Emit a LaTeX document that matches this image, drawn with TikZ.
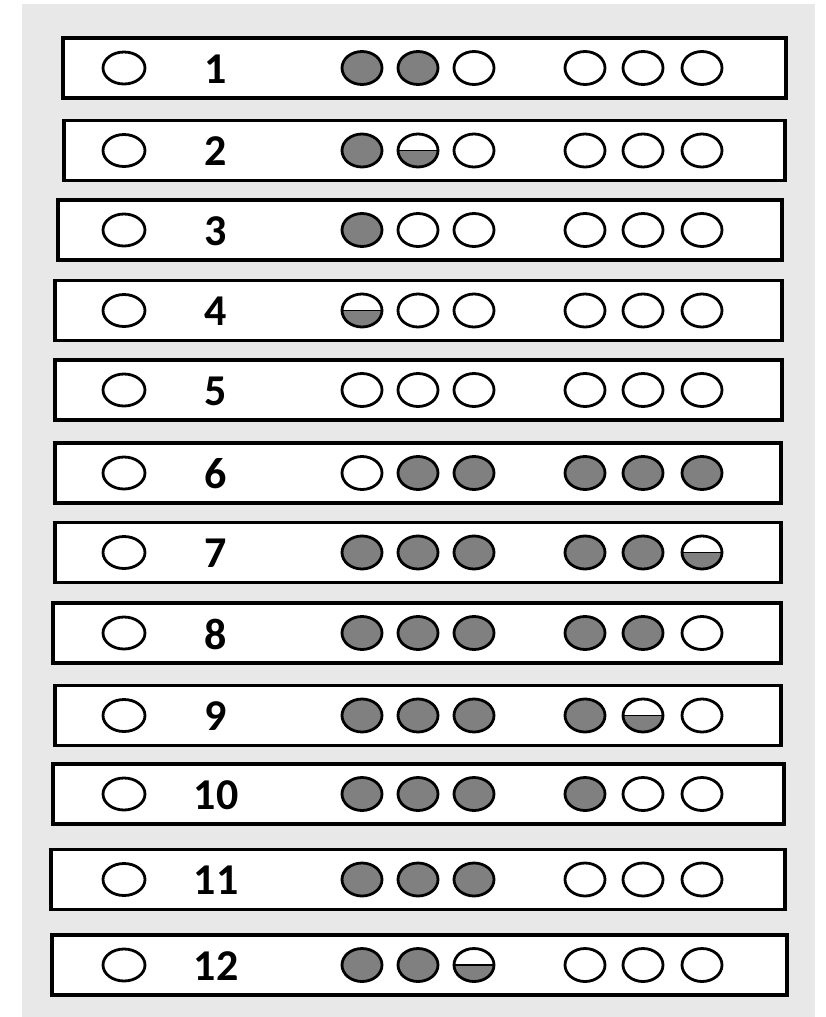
\documentclass[tikz,border=0pt]{standalone}
\usepackage{fontspec}
\setmainfont{Carlito}
\usepackage{tikz}
\usetikzlibrary{shapes.geometric}
\definecolor{bggray}{RGB}{232,232,232}
\definecolor{dotgray}{RGB}{128,128,128}

\begin{document}
\begin{tikzpicture}[x=1pt, y=-1pt,
    rowbox/.style={rectangle, draw=black, line width=3.5pt, fill=white, minimum height=60pt, inner sep=0pt},
    dot0/.style={ellipse, draw=black, line width=2.8pt, fill=white, minimum width=40pt, minimum height=33pt, inner sep=0pt},
    dot1/.style={dot0, fill=dotgray},
    dot2/.style={dot0, path picture={
        \fill[dotgray] (path picture bounding box.west) rectangle (path picture bounding box.south east);
        \draw[line width=1.6pt] (path picture bounding box.west) -- (path picture bounding box.east);}},
    num/.style={font=\bfseries\fontsize{44}{44}\selectfont, inner sep=0pt}]
% page and grey backdrop
\fill[white] (0,0) rectangle (825,1017);
\fill[bggray] (22,4) rectangle (815,1017);
% one strip per row: number / centre y / left x / right x / dot states
\foreach \r/\y/\xa/\xb/\s in {
    1/68/63/786/{1,1,0,0,0,0},
    2/150.5/64/785/{1,2,0,0,0,0},
    3/230/58/782/{1,0,0,0,0,0},
    4/310.5/55/782/{2,0,0,0,0,0},
    5/390/55/782/{0,0,0,0,0,0},
    6/473/55/781/{0,1,1,1,1,1},
    7/552.5/55/781/{1,1,1,1,1,2},
    8/633/53/781/{1,1,1,1,1,0},
    9/715.5/55/781/{1,1,1,1,2,0},
    10/794/53/784/{1,1,1,1,0,0},
    11/879.5/51/785/{1,1,1,0,0,0},
    12/965/52/787/{1,1,2,0,0,0}}{
  \pgfmathsetmacro\w{\xb-\xa}
  \pgfmathsetmacro\xm{(\xa+\xb)/2}
  \node[rowbox, minimum width=\w pt] (row-\r) at (\xm,\y) {};
  \node[dot0, minimum width=42pt, minimum height=32pt] (ring-\r) at (124,\y) {};
  \node[num] (num-\r) at (216,\y+1) {\r};
  \foreach \st [count=\k] in \s {
    \pgfmathsetmacro\xd{{362,418,474,585,643,702}[\k-1]}
    \node[dot\st] (dot-\r-\k) at (\xd,\y) {};
  }
}
\end{tikzpicture}
\end{document}
